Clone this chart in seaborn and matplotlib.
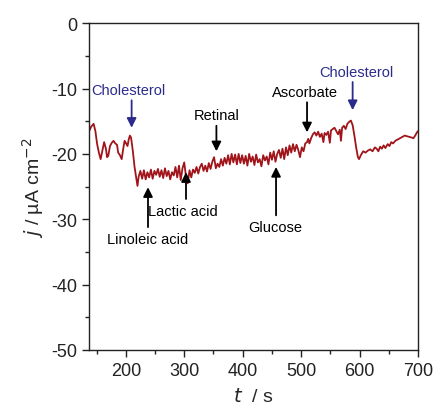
import numpy as np
import pandas as pd
import matplotlib
matplotlib.use("Agg")
import matplotlib.pyplot as plt
from matplotlib.ticker import MultipleLocator
import seaborn as sns

# time (s) and current density (uA cm^-2)
t = [137, 141, 145, 148, 151, 154, 157, 160, 163, 166, 168, 170, 173, 176, 179, 182,
     185, 187, 190, 193, 196, 198, 200, 203, 205, 207, 209, 212, 215, 218, 220, 222,
     225, 228, 231, 234, 237, 240, 243, 246, 249, 252, 255, 258, 261, 264, 267, 270,
     273, 276, 279, 282, 285, 288, 291, 294, 297, 300, 303, 306, 309, 312, 315, 318,
     321, 324, 327, 330, 333, 336, 339, 342, 345, 348, 351, 354, 357, 360, 363, 366,
     369, 372, 375, 378, 381, 384, 387, 390, 393, 396, 399, 402, 405, 408, 411, 414,
     417, 420, 423, 426, 429, 432, 435, 438, 441, 444, 447, 450, 453, 456, 459, 462,
     465, 468, 471, 474, 477, 480, 483, 486, 489, 492, 495, 498, 501, 504, 507, 510,
     512, 514, 517, 520, 523, 526, 529, 532, 535, 538, 540, 543, 546, 549, 551, 554,
     557, 560, 563, 566, 568, 570, 573, 576, 579, 582, 585, 588, 591, 594, 597, 599,
     602, 606, 610, 614, 618, 622, 626, 629, 632, 635, 638, 641, 644, 648, 651, 654,
     657, 661, 665, 669, 673, 677, 681, 685, 689, 692, 695, 698, 700]
j = [-16.6, -15.8, -15.4, -16.5, -18.5, -19.8, -20.8, -19.5, -18.2, -19.2, -20.5, -20.3,
     -18.8, -18.3, -18.0, -18.4, -18.6, -19.8, -20.2, -20.8, -19.0, -18.0, -18.3, -18.8,
     -17.8, -17.2, -17.5, -19.5, -22.0, -23.8, -24.9, -23.5,
     -22.6, -23.8, -22.5, -23.9, -22.8, -23.6, -22.4, -23.8, -22.6, -23.2, -22.3, -23.5,
     -22.5, -23.7, -22.2, -23.4, -22.6, -23.9, -22.8, -23.3, -22.0, -23.6, -21.8, -24.0,
     -22.2, -21.3, -23.5, -24.5, -22.5, -23.6, -22.4, -22.9,
     -22.0, -23.0, -22.0, -21.5, -22.6, -21.8, -22.7, -21.4, -22.3, -21.2, -20.5, -22.2,
     -21.5, -22.0, -20.8, -21.8, -20.6, -21.5, -20.2, -21.6, -20.0, -21.3, -20.1, -21.6,
     -20.0, -21.4, -20.2, -21.5, -20.3, -21.8, -20.0, -21.2, -20.4, -21.7, -20.1, -21.3,
     -20.8, -21.9, -20.2, -21.0, -20.4, -21.6, -19.8, -20.9, -19.6, -21.2, -20.0, -19.4,
     -20.6, -19.2, -20.8, -19.0, -20.2, -18.7, -19.8, -18.5, -19.6, -18.6, -19.4, -20.5,
     -19.0, -19.6, -18.4, -18.2, -17.7, -18.4, -17.6, -17.0, -16.7, -17.2, -16.6, -17.4,
     -16.9, -18.2, -16.8, -17.1, -16.6, -18.3, -16.4, -16.2, -16.0, -16.5, -17.0, -16.3,
     -18.0, -16.0, -15.7, -16.2, -15.4, -15.1, -14.9, -15.6, -17.2, -19.0, -20.5, -20.8,
     -20.2, -19.6, -19.8, -19.5, -19.3, -19.6, -19.0, -19.2, -19.6, -18.9, -19.2, -18.7,
     -19.1, -18.5, -18.8, -18.2, -18.4, -18.0, -17.8, -17.6, -17.4, -17.2, -17.3, -17.4,
     -17.5, -17.6, -17.2, -16.7, -16.5]

# additions: label, text position, arrow tail, arrow tip, colour
labels = ["Cholesterol", "Linoleic acid", "Lactic acid", "Retinal",
          "Glucose", "Ascorbate", "Cholesterol"]
text_xy = [(204, -10.2), (238, -33.0), (298, -28.7), (355, -14.1),
           (456, -31.2), (507, -10.6), (594, -7.5)]
tail_xy = [(210, -11.8), (238, -31.2), (303, -26.9), (355, -15.7),
           (457, -29.4), (510, -12.1), (588, -9.0)]
tip_xy = [(210, -16.0), (238, -25.1), (303, -22.8), (355, -19.6),
          (457, -22.0), (510, -16.7), (588, -13.3)]
colors = ["#2b2b8c", "black", "black", "black", "black", "black", "#2b2b8c"]

sns.set_style("ticks")
plt.rcParams["font.family"] = ["Liberation Sans", "DejaVu Sans"]
plt.rcParams["axes.unicode_minus"] = False

df = pd.DataFrame({"t": t, "j": j})

fig = plt.figure(figsize=(4.36, 4.10), dpi=100)
ax = fig.add_axes([0.204, 0.144, 0.755, 0.797])
sns.lineplot(data=df, x="t", y="j", ax=ax, color="#a0141a", linewidth=1.3)

for lab, txy, a, b, c in zip(labels, text_xy, tail_xy, tip_xy, colors):
    ax.text(txy[0], txy[1], lab, ha="center", va="center", fontsize=10.5, color=c)
    ax.annotate("", xy=b, xytext=a,
                arrowprops=dict(arrowstyle="-|>", color=c, lw=1.3,
                                mutation_scale=14, shrinkA=0, shrinkB=0))

ax.set_xlim(137, 700)
ax.set_ylim(-50, 0)
ax.xaxis.set_major_locator(MultipleLocator(100))
ax.xaxis.set_minor_locator(MultipleLocator(50))
ax.yaxis.set_major_locator(MultipleLocator(10))
ax.yaxis.set_minor_locator(MultipleLocator(5))
ax.tick_params(which="major", direction="out", length=5, width=1, labelsize=13,
               color="#222222", labelcolor="#222222")
ax.tick_params(which="minor", direction="out", length=3, width=1, color="#222222")
for s in ax.spines.values():
    s.set_linewidth(1)
    s.set_color("#222222")
ax.set_xlabel(r"$t$  / s", fontsize=14, labelpad=6)
ax.set_ylabel(r"$j$ / µA cm$^{-2}$", fontsize=14)

fig.savefig("out.png", dpi=100)
